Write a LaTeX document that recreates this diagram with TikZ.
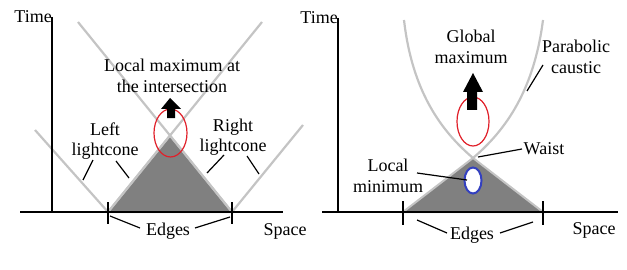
\documentclass[tikz,border=0pt]{standalone}
\usepackage{fontspec}
\setmainfont{Liberation Serif}
\usetikzlibrary{shapes.geometric}
\definecolor{conegray}{HTML}{C4C4C4}
\definecolor{fillgray}{HTML}{808080}
\definecolor{ellred}{HTML}{E0202A}
\definecolor{ellblue}{HTML}{3340C0}
\tikzset{
  axis/.style={line width=1.4pt, black},
  tick/.style={line width=1.2pt, black},
  cone/.style={line width=2.2pt, conegray},
  region/.style={fill=fillgray, draw=conegray, line width=2pt, line join=miter},
  pointer/.style={line width=1.2pt, black},
  lbl/.style={inner sep=0pt, align=center, font=\fontsize{18}{20.5}\selectfont},
  bigarrow/.style={fill=black, draw=none},
}
\begin{document}
\begin{tikzpicture}[x=1pt,y=-1pt]
\useasboundingbox (0,0) rectangle (627,270);
% ---------- LEFT PANEL ----------
\coordinate (LA) at (108,212);
\coordinate (LB) at (232,212);
\coordinate (LP) at (170,135.5);
\fill[region] (LA) -- (LP) -- (LB) -- cycle;
\coordinate (LX1) at (78,22);
\coordinate (LX2) at (262,22);
\coordinate (LO1) at (35,130);
\coordinate (LO2) at (303,125);
\draw[cone] (LX1) -- (LB);
\draw[cone] (LX2) -- (LA);
\draw[cone] (LO1) -- (LA);
\draw[cone] (LO2) -- (LB);
% axes
\coordinate (LYt) at (52,17);
\coordinate (LYb) at (52,212);
\coordinate (LXl) at (20,212);
\coordinate (LXr) at (283,212);
\draw[axis] (LYt) -- (LYb);
\draw[axis] (LXl) -- (LXr);
\draw[tick] (108,202) -- (108,224);
\draw[tick] (232,202) -- (232,224);
% red ellipse
\node[draw=ellred, line width=1.2pt, ellipse, minimum width=33pt, minimum height=48pt, inner sep=0pt] (LE) at (170.5,133) {};
% arrow
\fill[bigarrow] (167,118) -- (167,109) -- (161,109) -- (170,98) -- (181,109) -- (175,109) -- (175,118) -- cycle;
% labels
\node[lbl, anchor=east] (LT) at (LYt) {Time};
\node[lbl] (LS) at (285,231) {Space};
\node[lbl] (LM) at (172,76) {Local maximum at\\the intersection};
\node[lbl] (LL) at (105,141) {Left\\lightcone};
\node[lbl] (LR) at (233,137) {Right\\lightcone};
\node[lbl] (LEd) at (168,231) {Edges};
% pointers
\coordinate (p1a) at (93,160); \coordinate (p1b) at (83,180);
\coordinate (p2a) at (116,161); \coordinate (p2b) at (129,178);
\coordinate (p3a) at (224,155); \coordinate (p3b) at (207,173);
\coordinate (p4a) at (247,156); \coordinate (p4b) at (259,174);
\coordinate (p5a) at (140,228); \coordinate (p5b) at (110,216);
\coordinate (p6a) at (195,228); \coordinate (p6b) at (230,217);
\draw[pointer] (p1a) -- (p1b);
\draw[pointer] (p2a) -- (p2b);
\draw[pointer] (p3a) -- (p3b);
\draw[pointer] (p4a) -- (p4b);
\draw[pointer] (p5a) -- (p5b);
\draw[pointer] (p6a) -- (p6b);
% ---------- RIGHT PANEL ----------
\coordinate (RA) at (403,212);
\coordinate (RB) at (543,212);
\coordinate (RW) at (473,158);
\fill[region] (RA) -- (RW) -- (RB) -- cycle;
\coordinate (RC1) at (404,20);
\coordinate (RC2) at (543,20);
\draw[cone] (RC1) .. controls (412,90) and (440,130) .. (RW);
\draw[cone] (RC2) .. controls (534,90) and (506,130) .. (RW);
\coordinate (RYt) at (338,18);
\coordinate (RYb) at (338,212);
\coordinate (RXl) at (322,212);
\coordinate (RXr) at (618,212);
\draw[axis] (RYt) -- (RYb);
\draw[axis] (RXl) -- (RXr);
\draw[tick] (403,201) -- (403,225);
\draw[tick] (543,201) -- (543,225);
\node[draw=ellred, line width=1.2pt, ellipse, minimum width=32pt, minimum height=49pt, inner sep=0pt] (RE) at (473,121.5) {};
\node[draw=ellblue, fill=white, line width=2pt, ellipse, minimum width=17pt, minimum height=26pt, inner sep=0pt] (RBl) at (473,180.5) {};
\fill[bigarrow] (467,110) -- (467,92) -- (463,92) -- (473,73) -- (483,92) -- (477,92) -- (477,110) -- cycle;
\node[lbl, anchor=east] (RT) at (RYt) {Time};
\node[lbl] (RS) at (594,230) {Space};
\node[lbl] (RG) at (471,47) {Global\\maximum};
\node[lbl] (RP) at (576,57) {Parabolic\\caustic};
\node[lbl] (RWa) at (544,149) {Waist};
\node[lbl] (RL) at (388,176) {Local\\minimum};
\node[lbl] (REd) at (472,235) {Edges};
\coordinate (q1a) at (543,65); \coordinate (q1b) at (527,91);
\coordinate (q2a) at (522,149); \coordinate (q2b) at (478,157);
\coordinate (q3a) at (417,173); \coordinate (q3b) at (467,180);
\coordinate (q4a) at (447,233); \coordinate (q4b) at (417,220);
\coordinate (q5a) at (500,233); \coordinate (q5b) at (533,222);
\draw[pointer] (q1a) -- (q1b);
\draw[pointer] (q2a) -- (q2b);
\draw[pointer] (q3a) -- (q3b);
\draw[pointer] (q4a) -- (q4b);
\draw[pointer] (q5a) -- (q5b);
\end{tikzpicture}
\end{document}
